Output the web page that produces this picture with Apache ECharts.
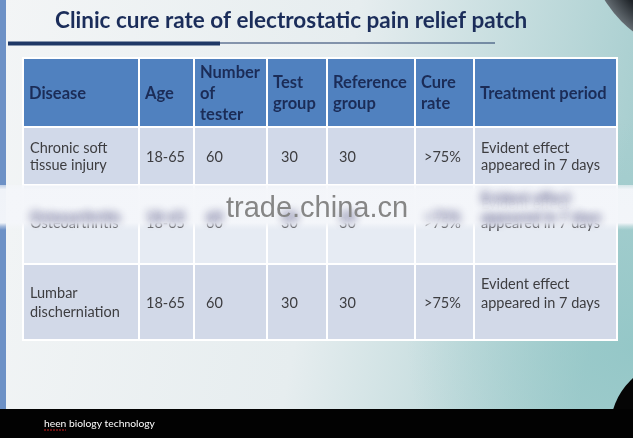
<!DOCTYPE html>
<html>
<head>
<meta charset="utf-8">
<script src="https://cdn.jsdelivr.net/npm/echarts@6/dist/echarts.min.js"></script>
<style>
  html, body { margin: 0; padding: 0; background: #000; }
  #chart { width: 633px; height: 438px; }
</style>
</head>
<body>
<div id="chart"></div>
<script>
  // table content
  const headers = ["Disease", "Age", "Number\nof\ntester", "Test\ngroup", "Reference\ngroup", "Cure\nrate", "Treatment period"];
  const diseases = ["Chronic soft\ntissue injury", "Osteoarthritis", "Lumbar\ndischerniation"];
  const ages = ["18-65", "18-65", "18-65"];
  const testers = [60, 60, 60];
  const testGroup = [30, 30, 30];
  const refGroup = [30, 30, 30];
  const cureRate = [">75%", ">75%", ">75%"];
  const periods = ["Evident effect\nappeared in 7 days", "Evident effect\nappeared in 7 days\n", "Evident effect\nappeared in 7 days\n"];

  const titleText = "Clinic cure rate of electrostatic pain relief patch";
  const footerText = "heen biology technology";
  const watermark = "trade.china.cn";

  // layout (table coordinates, px from table corner)
  const COL_EDGES = [0, 116, 171, 244, 304, 392, 451, 594];
  const ROW_EDGES = [0, 69, 127, 206, 282];
  const BODY_PAD = [7, 7, 12, 14, 12, 9, 7];
  const ROW_LINE_H = [21, 17, 19, 19];
  const ROW_SHIFT = [1, 1, -1, 1];
  const ROW_FILL = ["#5081bf", "#d1d9e9", "#e6ebf3", "#d2d9e8"];
  const MASKED_ROW = 2;

  const cells = [];
  headers.forEach((h, c) => cells.push({ col: c, row: 0, text: h }));
  diseases.forEach((d, i) => {
    const vals = [d, ages[i], String(testers[i]), String(testGroup[i]), String(refGroup[i]), cureRate[i], periods[i]];
    vals.forEach((v, c) => cells.push({ col: c, row: i + 1, text: v }));
  });
  const maskedCells = cells.filter(c => c.row === MASKED_ROW);

  const chart = echarts.init(document.getElementById("chart"), null, { renderer: "canvas" });

  function textStyle(cell, p0, p1) {
    const head = cell.row === 0;
    const pad = head ? 6 : BODY_PAD[cell.col];
    return {
      text: cell.text,
      x: p0[0] + pad,
      y: (p0[1] + p1[1]) / 2 + ROW_SHIFT[cell.row],
      align: "left",
      verticalAlign: "middle",
      fill: head ? "#1b2c57" : "#3d3d40",
      fontFamily: "Lato",
      fontWeight: head ? "bold" : "normal",
      fontSize: head ? 16.5 : 14.5,
      lineHeight: ROW_LINE_H[cell.row]
    };
  }

  function renderCell(params, api) {
    const cell = cells[params.dataIndex];
    const p0 = api.coord([COL_EDGES[cell.col], ROW_EDGES[cell.row]]);
    const p1 = api.coord([COL_EDGES[cell.col + 1], ROW_EDGES[cell.row + 1]]);
    return {
      type: "group",
      children: [
        {
          type: "rect",
          shape: { x: p0[0], y: p0[1], width: p1[0] - p0[0], height: p1[1] - p0[1] },
          style: { fill: ROW_FILL[cell.row], stroke: "#ffffff", lineWidth: 2 }
        },
        { type: "text", style: textStyle(cell, p0, p1) }
      ]
    };
  }

  // blurred ghost of the masked row, seen through the watermark band
  function renderSmudge(params, api) {
    const cell = maskedCells[params.dataIndex];
    const p0 = api.coord([COL_EDGES[cell.col], ROW_EDGES[cell.row]]);
    const p1 = api.coord([COL_EDGES[cell.col + 1], ROW_EDGES[cell.row + 1]]);
    const st = textStyle(cell, p0, p1);
    st.x += 1000;
    st.y -= 6;
    st.fill = "#505080";
    st.fontWeight = "bold";
    st.textShadowColor = "rgba(70,70,120,0.95)";
    st.textShadowBlur = 8;
    st.textShadowOffsetX = -1000;
    return { type: "text", style: st };
  }

  chart.setOption({
    animation: false,
    backgroundColor: "#000",
    grid: { left: 23, top: 58, width: 594, height: 282 },
    xAxis: { type: "value", min: 0, max: COL_EDGES[COL_EDGES.length - 1], show: false },
    yAxis: { type: "value", min: 0, max: ROW_EDGES[ROW_EDGES.length - 1], inverse: true, show: false },
    graphic: [
      // slide background
      {
        type: "rect", z: -20, silent: true,
        shape: { x: 0, y: 0, width: 633, height: 410 },
        style: {
          fill: new echarts.graphic.LinearGradient(0, 0, 1, 0.3, [
            { offset: 0, color: "#f3f5f6" },
            { offset: 0.55, color: "#e6edef" },
            { offset: 1, color: "#a9cfd0" }
          ])
        }
      },
      {
        type: "rect", z: -19, silent: true,
        shape: { x: 0, y: 0, width: 633, height: 410 },
        style: {
          fill: new echarts.graphic.RadialGradient(1, 0.85, 0.55, [
            { offset: 0, color: "rgba(140,196,196,0.7)" },
            { offset: 1, color: "rgba(140,196,196,0)" }
          ])
        }
      },
      { type: "rect", z: -18, silent: true, shape: { x: 0, y: 0, width: 6, height: 410 }, style: { fill: "#6d91c6" } },
      {
        type: "circle", z: -17, silent: true,
        shape: { cx: 705, cy: -62, r: 118 },
        style: {
          fill: new echarts.graphic.RadialGradient(0.5, 0.5, 0.5, [
            { offset: 0.82, color: "#1e2328" },
            { offset: 1, color: "#646c72" }
          ])
        }
      },
      { type: "circle", z: -16, silent: true, shape: { cx: 680, cy: 430, r: 70 }, style: { fill: "#050505" } },
      { type: "rect", z: -16, silent: true, shape: { x: 0, y: 409, width: 633, height: 29 }, style: { fill: "#020202" } },
      // title and rule
      {
        type: "text", z: 10, silent: true,
        style: { text: titleText, x: 55, y: 21, verticalAlign: "middle", fill: "#1b2d5a", fontFamily: "Lato", fontWeight: "bold", fontSize: 22.5 }
      },
      { type: "rect", z: 10, silent: true, shape: { x: 8, y: 41.5, width: 212, height: 4 }, style: { fill: "#1f3866" } },
      { type: "line", z: 10, silent: true, shape: { x1: 220, y1: 43, x2: 495, y2: 43 }, style: { stroke: "#1f3866", lineWidth: 1 } },
      // footer
      {
        type: "text", z: 10, silent: true,
        style: { text: footerText, x: 44, y: 424, verticalAlign: "middle", fill: "#ffffff", fontFamily: "Lato", fontSize: 10.3 }
      },
      { type: "line", z: 10, silent: true, shape: { x1: 44, y1: 430, x2: 66, y2: 430 }, style: { stroke: "#d02020", lineWidth: 1, lineDash: [2, 1] } },
      // watermark band
      {
        type: "rect", z: 100, silent: true,
        shape: { x: 0, y: 185, width: 633, height: 45 },
        style: {
          fill: new echarts.graphic.LinearGradient(0, 0, 0, 1, [
            { offset: 0, color: "rgba(244,246,250,0.6)" },
            { offset: 0.1, color: "rgba(244,246,250,0.97)" },
            { offset: 0.84, color: "rgba(244,246,250,0.98)" },
            { offset: 0.92, color: "rgba(244,246,250,0.4)" },
            { offset: 1, color: "rgba(244,246,250,0)" }
          ])
        }
      },
      {
        type: "text", z: 120, silent: true,
        style: { text: watermark, x: 317, y: 209, align: "center", verticalAlign: "middle", fill: "#868686", fontFamily: "Liberation Sans", fontSize: 29 }
      }
    ],
    series: [
      {
        type: "custom",
        renderItem: renderCell,
        data: cells.map(c => [COL_EDGES[c.col], ROW_EDGES[c.row]]),
        z: 5
      },
      {
        type: "custom",
        renderItem: renderSmudge,
        data: maskedCells.map(c => [COL_EDGES[c.col], ROW_EDGES[c.row]]),
        z: 110,
        silent: true
      }
    ]
  });
</script>
</body>
</html>
